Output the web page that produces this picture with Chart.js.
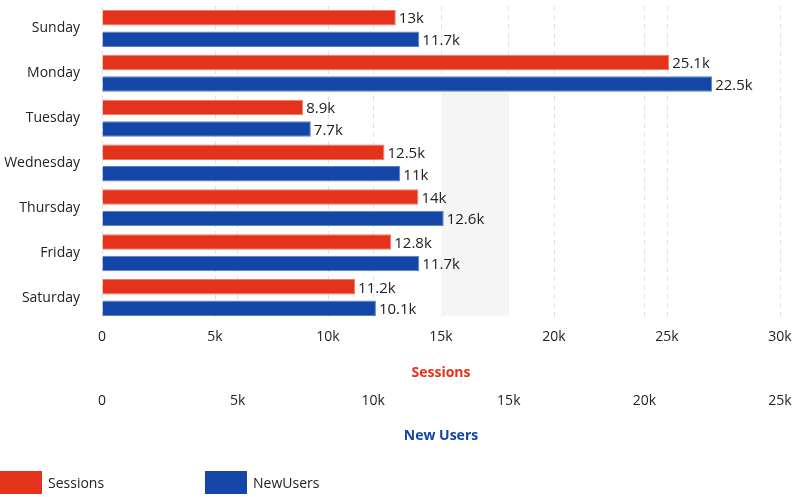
<!DOCTYPE html>
<html><head><meta charset="utf-8">
<script src="https://cdn.jsdelivr.net/npm/chart.js@4/dist/chart.umd.min.js"></script>
<style>html,body{margin:0;padding:0;background:#fff}#wrap{position:relative;width:795px;height:497px}</style>
</head><body><div id="wrap"><canvas id="c" width="795" height="497"></canvas></div>
<script>
const categories = ['Sunday','Monday','Tuesday','Wednesday','Thursday','Friday','Saturday'];
const sessions = [13000, 25100, 8900, 12500, 14000, 12800, 11200];
const newUsers = [11700, 22500, 7700, 11000, 12600, 11700, 10100];
const sessionTicks = [0, 5000, 10000, 15000, 20000, 25000, 30000];
const userTicks = [0, 5000, 10000, 15000, 20000, 25000];
const RED = '#E5321A', BLUE = '#1346A6';
const FONT = '"Open Sans", "Noto Sans", sans-serif';

function fmt(v){ const k = v/1000; return (Math.round(k*10)/10) + 'k'; }
function noPad(s){ s.paddingTop = 0; s.paddingBottom = 0; s.paddingLeft = 0; s.paddingRight = 0; }

const bandPlugin = {
  id: 'band',
  beforeDatasetsDraw(chart){
    const {ctx, chartArea, scales} = chart;
    const x1 = scales.x.getPixelForValue(15000), x2 = scales.x2.getPixelForValue(15000);
    const yTop = scales.y.getPixelForValue(1.5) - 5;
    ctx.save(); ctx.fillStyle = '#f5f5f5';
    ctx.fillRect(x1, yTop, x2 - x1, chartArea.bottom - 4 - yTop);
    ctx.restore();
  }
};
const labelPlugin = {
  id: 'vlabels',
  afterDatasetsDraw(chart){
    const ctx = chart.ctx; ctx.save();
    ctx.font = '15px ' + FONT; ctx.fillStyle = '#222'; ctx.textBaseline = 'middle'; ctx.textAlign = 'left';
    chart.data.datasets.forEach((ds, i) => {
      chart.getDatasetMeta(i).data.forEach((bar, j) => {
        ctx.fillText(fmt(ds.data[j]), bar.x + 3, bar.y + 1.5);
      });
    });
    ctx.restore();
  }
};
const legendPlugin = {
  id: 'customLegend',
  afterDraw(chart){
    const ctx = chart.ctx; ctx.save();
    const items = [{t:'Sessions', c:RED, x:0}, {t:'NewUsers', c:BLUE, x:205}];
    ctx.font = '14px ' + FONT; ctx.textBaseline = 'middle';
    items.forEach(it => {
      ctx.fillStyle = it.c; ctx.fillRect(it.x, 471, 42, 23);
      ctx.fillStyle = '#222'; ctx.fillText(it.t, it.x + 48, 484);
    });
    ctx.restore();
  }
};

new Chart(document.getElementById('c'), {
  type: 'bar',
  data: {
    labels: categories,
    datasets: [
      {label:'Sessions', data: sessions, xAxisID:'x', backgroundColor: RED, borderColor:'#ee7a68', borderWidth:{right:1,top:1,bottom:1}, categoryPercentage:0.96, barPercentage:0.72},
      {label:'New Users', data: newUsers, xAxisID:'x2', backgroundColor: BLUE, borderColor:'#5b80c8', borderWidth:{right:1,top:1,bottom:1}, categoryPercentage:0.96, barPercentage:0.72}
    ]
  },
  options: {
    indexAxis: 'y', responsive:false, animation:false,
    layout: {padding:{left:0, right:15, top:6, bottom:49}},
    plugins: {legend:{display:false}, tooltip:{enabled:false}},
    scales: {
      y: {
        grid:{display:false}, border:{display:false},
        ticks:{color:'#222', font:{family:FONT, size:14}, padding:14},
        afterFit(s){ s.width = 102; noPad(s); }
      },
      x: {
        position:'bottom', min:0, max:30000, weight:1,
        afterBuildTicks(s){ s.ticks = sessionTicks.map(v => ({value:v})); },
        ticks:{color:'#222', font:{family:FONT, size:14}, padding:9, maxRotation:0, callback:v => v===0 ? '0' : fmt(v)},
        grid:{color:'#e2e2e2', drawTicks:false}, border:{display:false, dash:[5,4]},
        title:{display:true, text:'Sessions', color:RED, font:{family:FONT, size:14, weight:'bold'}, padding:{top:12,bottom:4}},
        afterFit(s){ s.height = 65; noPad(s); }
      },
      x2: {
        position:'bottom', min:0, max:25000, weight:2,
        afterBuildTicks(s){ s.ticks = userTicks.map(v => ({value:v})); },
        ticks:{color:'#222', font:{family:FONT, size:14}, padding:8, maxRotation:0, callback:v => v===0 ? '0' : fmt(v)},
        grid:{color:'#e2e2e2', drawTicks:false}, border:{display:false, dash:[5,4]},
        title:{display:true, text:'New Users', color:BLUE, font:{family:FONT, size:14, weight:'bold'}, padding:{top:12,bottom:4}},
        afterFit(s){ s.height = 63; noPad(s); }
      }
    }
  },
  plugins:[bandPlugin, labelPlugin, legendPlugin]
});
</script></body></html>
